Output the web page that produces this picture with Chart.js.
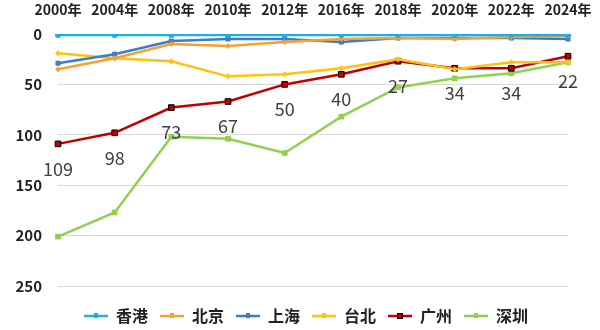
<!DOCTYPE html>
<html>
<head>
<meta charset="utf-8">
<script src="https://cdn.jsdelivr.net/npm/chart.js@4/dist/chart.umd.min.js"></script>
<style>
  html, body { margin: 0; padding: 0; background: #fff; }
  #wrap { width: 600px; height: 330px; }
</style>
</head>
<body>
<div id="wrap"><canvas id="rankChart"></canvas></div>
<script>
const years = ['2000年', '2004年', '2008年', '2010年', '2012年', '2016年', '2018年', '2020年', '2022年', '2024年'];
const cities = ['香港', '北京', '上海', '台北', '广州', '深圳'];

const hongkong = [1, 1, 1, 1, 1, 1, 1, 1, 1, 1];
const beijing  = [35, 24, 10, 12, 8, 5, 4, 5, 3, 2];
const shanghai = [29, 20, 7, 5, 5, 8, 4, 4, 4, 5];
const taipei   = [19, 24, 27, 42, 40, 34, 25, 35, 28, 28];
const guangzhou = [109, 98, 73, 67, 50, 40, 27, 34, 34, 22];
const shenzhen = [201, 177, 102, 104, 118, 82, 53, 44, 39, 28];

const yTicks = [0, 50, 100, 150, 200, 250];

const FONT = '"Noto Sans CJK SC", "Noto Sans", sans-serif';

const styles = [
    { color: '#1AAEEB', marker: 'circle', radius: 3 },
    { color: '#F7A035', marker: 'rectRot', radius: 3 },
    { color: '#3C7DC4', marker: 'rect', radius: 3.5 },
    { color: '#FFC20E', marker: 'rectRot', radius: 3 },
    { color: '#C00000', marker: 'rect', radius: 4, border: '#000' },
    { color: '#92D050', marker: 'rect', radius: 4 }
];
const series = [hongkong, beijing, shanghai, taipei, guangzhou, shenzhen];

// small line + marker swatch for legend entries
function legendSwatch(st) {
    const c = document.createElement('canvas');
    c.width = 24; c.height = 10;
    const g = c.getContext('2d');
    g.strokeStyle = st.color;
    g.lineWidth = 2.5;
    g.beginPath(); g.moveTo(0, 5); g.lineTo(24, 5); g.stroke();
    g.fillStyle = st.color;
    if (st.border) {
        g.fillRect(9, 2, 6, 6);
        g.strokeStyle = st.border; g.lineWidth = 1;
        g.strokeRect(9.5, 2.5, 5, 5);
    } else {
        g.fillRect(10, 2, 4, 5);
    }
    return c;
}

const datasets = cities.map((name, i) => {
    const st = styles[i];
    return {
        label: name,
        data: series[i],
        borderColor: st.color,
        backgroundColor: st.color,
        borderWidth: 2.5,
        pointStyle: st.marker,
        pointRadius: st.radius,
        pointBackgroundColor: st.color,
        pointBorderColor: st.border || st.color,
        pointBorderWidth: st.border ? 1 : 0,
        tension: 0,
        swatch: legendSwatch(st)
    };
});

// value labels under the 广州 line
const valueLabels = {
    id: 'valueLabels',
    afterDatasetsDraw(chart) {
        const idx = cities.indexOf('广州');
        const meta = chart.getDatasetMeta(idx);
        const ctx = chart.ctx;
        ctx.save();
        ctx.font = '18px ' + FONT;
        ctx.fillStyle = '#404040';
        ctx.textAlign = 'center';
        ctx.textBaseline = 'middle';
        meta.data.forEach((pt, j) => {
            ctx.fillText(String(guangzhou[j]), pt.x, pt.y + 25);
        });
        ctx.restore();
    }
};

// push the legend lower and a bit to the right
const legendShift = {
    id: 'legendShift',
    afterLayout(chart) {
        const lg = chart.legend;
        if (!lg) return;
        lg.top += 10;
        lg.bottom += 10;
        lg.left += 22;
        lg.right += 22;
    }
};

new Chart(document.getElementById('rankChart'), {
    type: 'line',
    data: { labels: years, datasets: datasets },
    plugins: [valueLabels, legendShift],
    options: {
        responsive: true,
        maintainAspectRatio: false,
        animation: false,
        layout: { padding: { top: 0, right: 32, left: 0, bottom: 6 } },
        plugins: {
            tooltip: { enabled: false },
            legend: {
                position: 'bottom',
                labels: {
                    usePointStyle: true,
                    pointStyleWidth: 24,
                    boxHeight: 10,
                    padding: 12,
                    color: '#222',
                    font: { family: FONT, size: 16, weight: 'bold' },
                    generateLabels(chart) {
                        return chart.data.datasets.map((ds, i) => ({
                            text: ds.label,
                            pointStyle: ds.swatch,
                            fillStyle: ds.borderColor,
                            strokeStyle: ds.borderColor,
                            lineWidth: 0,
                            fontColor: '#222',
                            hidden: false,
                            datasetIndex: i
                        }));
                    }
                }
            }
        },
        scales: {
            x: {
                position: 'top',
                offset: false,
                grid: { display: false, drawTicks: false },
                border: { display: false },
                ticks: {
                    color: '#222',
                    padding: 16,
                    maxRotation: 0,
                    autoSkip: false,
                    font: { family: FONT, size: 14, weight: 'bold' }
                },
                afterFit(scale) {
                    scale.height = 34;
                    // layout padding already leaves room for the edge labels
                    scale.paddingLeft = 0;
                    scale.paddingRight = 0;
                }
            },
            y: {
                reverse: true,
                min: 0,
                max: 250,
                afterBuildTicks(scale) { scale.ticks = yTicks.map(v => ({ value: v })); },
                grid: { color: '#d9d9d9', lineWidth: 1, drawTicks: false },
                border: { display: false },
                ticks: {
                    color: '#222',
                    padding: 16,
                    font: { family: FONT, size: 15, weight: 'bold' }
                },
                afterFit(scale) { scale.width = 58; }
            }
        }
    }
});
</script>
</body>
</html>
